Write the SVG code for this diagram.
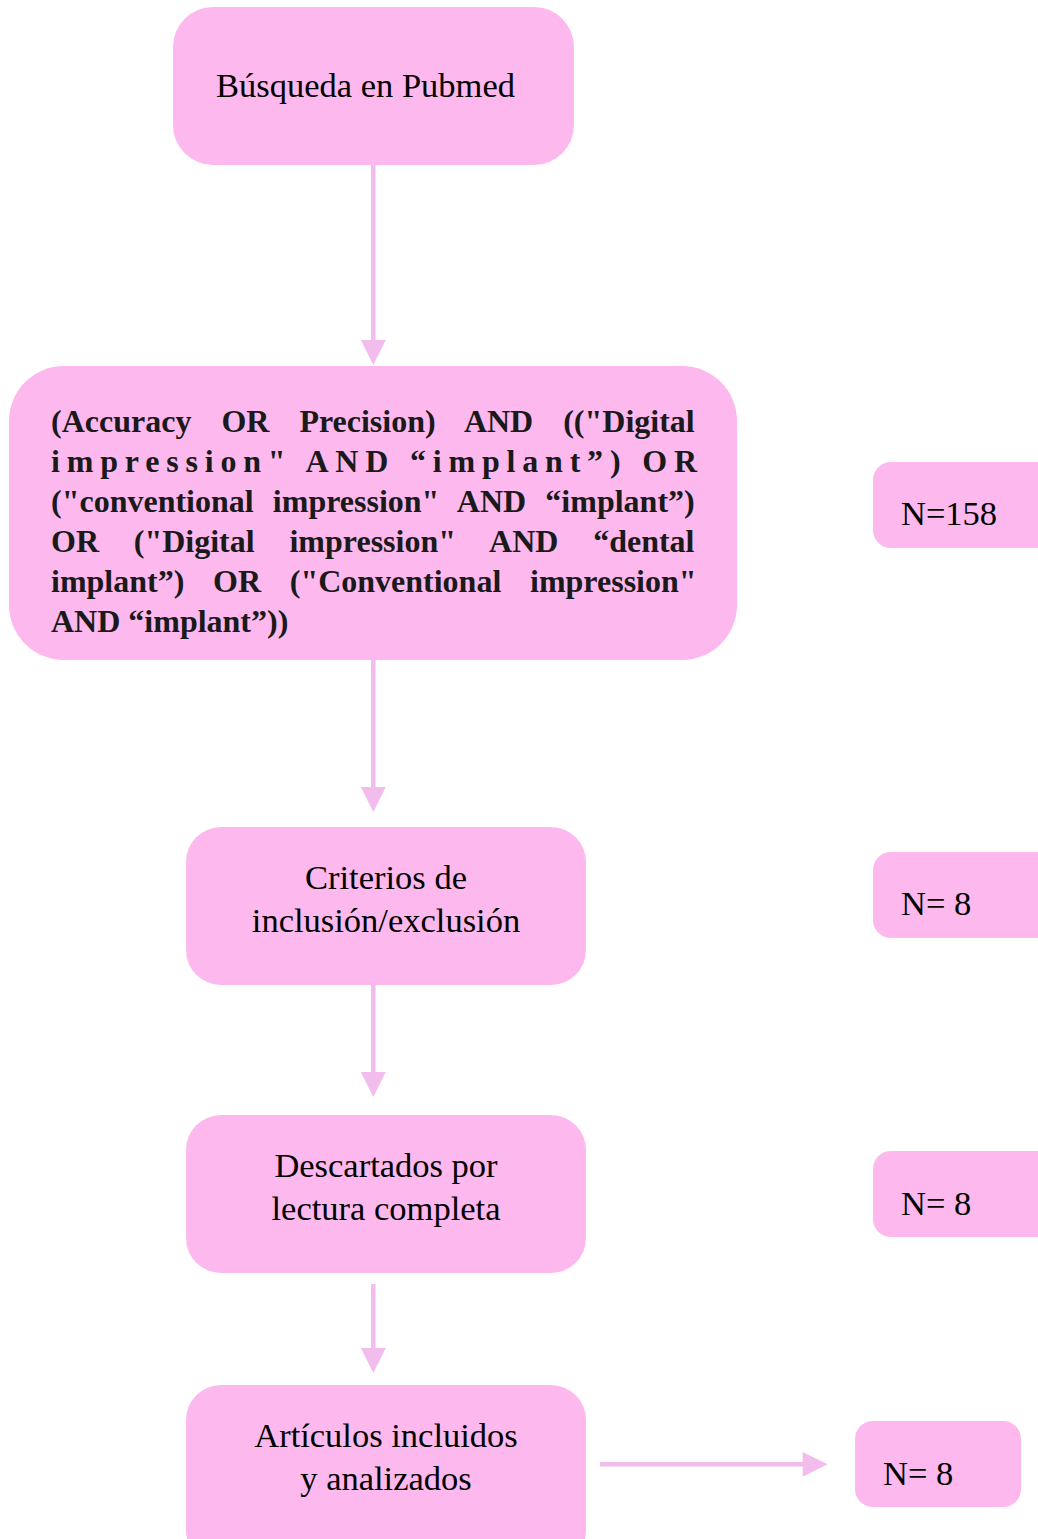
<svg xmlns="http://www.w3.org/2000/svg" width="1038" height="1539" viewBox="0 0 1038 1539">
<defs>
<style>
.box{fill:#fdb9ee;}
.t{font-family:"Liberation Serif","Times New Roman",serif;font-size:34.5px;fill:#000;}
.c{text-anchor:middle;}
.q{font-family:"Liberation Serif","Times New Roman",serif;font-size:32px;font-weight:bold;fill:#1a1a1a;}
.shaft{stroke:#f2bced;stroke-width:4.5;fill:none;}
.head{fill:#f2bced;}
</style>
</defs>
<rect width="1038" height="1539" fill="#ffffff"/>
<g id="connectors">
<line class="shaft" x1="373.3" y1="165" x2="373.3" y2="342"/>
<polygon class="head" points="360.8,340 385.8,340 373.3,365"/>
<line class="shaft" x1="373.3" y1="660" x2="373.3" y2="789"/>
<polygon class="head" points="360.8,787 385.8,787 373.3,812"/>
<line class="shaft" x1="373.3" y1="985" x2="373.3" y2="1074"/>
<polygon class="head" points="360.8,1072 385.8,1072 373.3,1097"/>
<line class="shaft" x1="373.3" y1="1284" x2="373.3" y2="1350"/>
<polygon class="head" points="360.8,1348 385.8,1348 373.3,1373"/>
<line class="shaft" x1="600" y1="1464.3" x2="804" y2="1464.3"/>
<polygon class="head" points="802.7,1452 802.7,1476.7 827.7,1464.3"/>
</g>
<g id="node-busqueda">
<rect class="box" x="173" y="7" width="401" height="158" rx="40"/>
<text class="t" x="216" y="97">Búsqueda en Pubmed</text>
</g>
<g id="node-query">
<rect class="box" x="9" y="366" width="728" height="294" rx="55"/>
<text class="q" x="51" y="432" word-spacing="22">(Accuracy OR Precision) AND (("Digital</text>
<text class="q" x="51" y="472" textLength="646" lengthAdjust="spacing">impression" AND “implant”) OR</text>
<text class="q" x="51" y="512" word-spacing="11.2">("conventional impression" AND “implant”)</text>
<text class="q" x="51" y="552" word-spacing="26.8">OR ("Digital impression" AND “dental</text>
<text class="q" x="51" y="592" word-spacing="20.7">implant”) OR ("Conventional impression"</text>
<text class="q" x="51" y="632">AND “implant”))</text>
</g>
<g id="node-criterios">
<rect class="box" x="186" y="827" width="400" height="158" rx="35"/>
<text class="t c" x="386" y="889">Criterios de</text>
<text class="t c" x="386" y="932">inclusión/exclusión</text>
</g>
<g id="node-descartados">
<rect class="box" x="186" y="1115" width="400" height="158" rx="35"/>
<text class="t c" x="386" y="1177">Descartados por</text>
<text class="t c" x="386" y="1220">lectura completa</text>
</g>
<g id="node-articulos">
<rect class="box" x="186" y="1385" width="400" height="180" rx="35"/>
<text class="t c" x="386" y="1447">Artículos incluidos</text>
<text class="t c" x="386" y="1490">y analizados</text>
</g>
<g id="node-n158">
<rect class="box" x="873" y="462" width="190" height="86" rx="18"/>
<text class="t" x="901" y="525">N=158</text>
</g>
<g id="node-n8-a">
<rect class="box" x="873" y="852" width="190" height="86" rx="18"/>
<text class="t" x="901" y="915">N= 8</text>
</g>
<g id="node-n8-b">
<rect class="box" x="873" y="1151" width="190" height="86" rx="18"/>
<text class="t" x="901" y="1215">N= 8</text>
</g>
<g id="node-n8-c">
<rect class="box" x="855" y="1421" width="166" height="86" rx="18"/>
<text class="t" x="883" y="1485">N= 8</text>
</g>
</svg>
